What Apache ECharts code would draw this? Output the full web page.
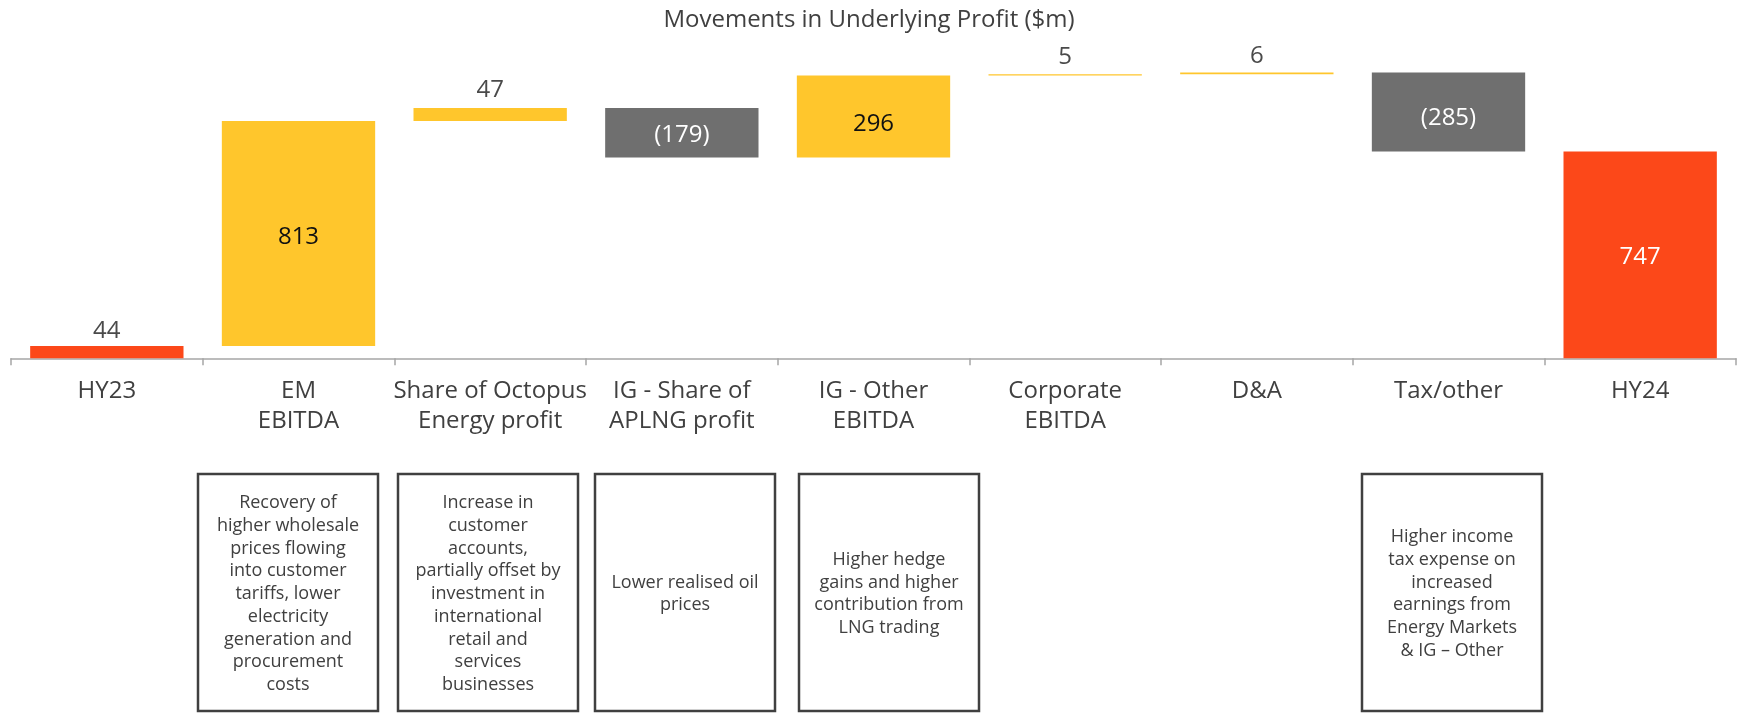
<!DOCTYPE html>
<html>
<head>
<meta charset="utf-8">
<title>Movements in Underlying Profit</title>
<script src="https://cdn.jsdelivr.net/npm/echarts@6/dist/echarts.min.js"></script>
<style>
  html, body { margin: 0; padding: 0; background: #fff; }
  #main { width: 1738px; height: 713px; }
</style>
</head>
<body>
<div id="main"></div>
<script>
// waterfall data ($m)
var categories = ['HY23', 'EM\nEBITDA', 'Share of Octopus\nEnergy profit', 'IG - Share of\nAPLNG profit',
  'IG - Other\nEBITDA', 'Corporate\nEBITDA', 'D&A', 'Tax/other', 'HY24'];
var movements = [44, 813, 47, -179, 296, 5, 6, -285, 747];
var isTotal = [true, false, false, false, false, false, false, false, true];

// commentary boxes under the axis
var noteTexts = [
  'Recovery of\nhigher wholesale\nprices flowing\ninto customer\ntariffs, lower\nelectricity\ngeneration and\nprocurement\ncosts',
  'Increase in\ncustomer\naccounts,\npartially offset by\ninvestment in\ninternational\nretail and\nservices\nbusinesses',
  'Lower realised oil\nprices',
  'Higher hedge\ngains and higher\ncontribution from\nLNG trading',
  'Higher income\ntax expense on\nincreased\nearnings from\nEnergy Markets\n& IG \u2013 Other'
];
var noteLeft = [198, 398, 595, 799, 1362];
// small vertical nudges for the labels
var labelNudge = [0, 4, -3, 2, 8, -2, -1, 6, 2];

var RED = '#FC4819', YELLOW = '#FFC62C', GREY = '#6F6F6F';
var FONT = '"Open Sans", sans-serif';

// build invisible base + visible part
var base = [], shown = [];
var running = 0;
movements.forEach(function (v, i) {
  var color, lblColor, pos;
  if (isTotal[i]) {
    base.push(0);
    running = v;
    color = RED;
  } else if (v >= 0) {
    base.push(running);
    running += v;
    color = YELLOW;
  } else {
    running += v;
    base.push(running);
    color = GREY;
  }
  var small = Math.abs(v) < 100;
  pos = small ? 'top' : 'inside';
  lblColor = small ? '#4a4a4a' : (color === YELLOW ? '#111' : '#fff');
  shown.push({
    value: Math.abs(v),
    itemStyle: { color: color },
    label: {
      show: true,
      position: pos,
      distance: 3,
      color: lblColor,
      offset: [0, labelNudge[i]]
    }
  });
});

var chart = echarts.init(document.getElementById('main'));

var graphics = [];
noteTexts.forEach(function (t, i) {
  graphics.push({
    type: 'rect',
    shape: { x: noteLeft[i], y: 474, width: 180, height: 237 },
    style: { fill: 'none', stroke: '#404040', lineWidth: 2.5 }
  });
  graphics.push({
    type: 'text',
    x: noteLeft[i] + 90,
    y: 594,
    style: {
      text: t,
      fill: '#404040',
      font: '18px ' + FONT,
      lineHeight: 22.7,
      align: 'center',
      verticalAlign: 'middle'
    }
  });
});

chart.setOption({
  animation: false,
  title: {
    text: 'Movements in Underlying Profit ($m)',
    left: 'center',
    top: 3,
    textStyle: { fontFamily: FONT, fontSize: 24, fontWeight: 'normal', color: '#404040' }
  },
  grid: { left: 11, right: 2, top: 26, bottom: 354.7, containLabel: false },
  xAxis: {
    type: 'category',
    data: categories,
    axisLine: { lineStyle: { color: '#A6A6A6', width: 1.5 } },
    axisTick: { show: true, length: 7, lineStyle: { color: '#A6A6A6', width: 1.5 } },
    axisLabel: {
      interval: 0,
      margin: 18,
      fontFamily: FONT,
      fontSize: 24,
      lineHeight: 30,
      color: '#404040'
    }
  },
  yAxis: { type: 'value', min: 0, max: 1200, show: false, splitLine: { show: false } },
  series: [
    {
      name: 'base',
      type: 'bar',
      stack: 'wf',
      barCategoryGap: '20%',
      itemStyle: { color: 'transparent' },
      emphasis: { disabled: true },
      data: base
    },
    {
      name: 'movement',
      type: 'bar',
      stack: 'wf',
      barCategoryGap: '20%',
      label: {
        fontFamily: FONT,
        fontSize: 24,
        formatter: function (p) {
          var v = movements[p.dataIndex];
          return v < 0 ? '(' + Math.abs(v) + ')' : String(v);
        }
      },
      data: shown
    }
  ],
  graphic: graphics
});
</script>
</body>
</html>
